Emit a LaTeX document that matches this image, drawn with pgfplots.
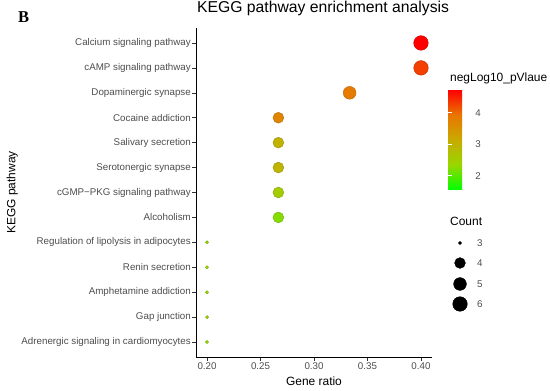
\documentclass[border=0pt]{standalone}
\usepackage{pgfplots}
\usepackage{pgfplotstable}
\pgfplotsset{compat=1.18}
\usepackage{fontspec}
\setmainfont{Liberation Sans}
\newfontfamily\serifb{Liberation Serif}
\definecolor{gthirty}{HTML}{4D4D4D}
\definecolor{gtwenty}{HTML}{333333}

\pgfplotsset{colormap={ggrg}{rgb255=(0,255,0) rgb255=(152,215,0) rgb255=(200,171,0) rgb255=(233,118,0) rgb255=(255,0,0)}}

% count = 3
\pgfplotstableread{
x y p
0.2 1 2.30
0.2 2 2.40
0.2 3 2.40
0.2 4 2.35
0.2 5 2.30
}\cthree
% count = 4
\pgfplotstableread{
x y p
0.2667 6 2.25
0.2667 7 2.55
0.2667 8 2.95
0.2667 9 3.00
0.2667 10 3.70
}\cfour
% count = 5
\pgfplotstableread{
x y p
0.3333 11 3.85
}\cfive
% count = 6
\pgfplotstableread{
x y p
0.4 12 4.30
0.4 13 4.72
}\csix

\begin{document}
\begin{tikzpicture}
\path[use as bounding box] (0,0) rectangle (550bp,391bp);
\node[anchor=base west, inner sep=0, font=\serifb\bfseries\fontsize{16.6}{18}\selectfont] at (18bp,368bp) {B};

\begin{axis}[
  at={(196bp,34bp)}, anchor=south west,
  scale only axis, width=236bp, height=329bp,
  xmin=0.1897, xmax=0.4103, ymin=0.4, ymax=13.6,
  axis x line*=bottom, axis y line*=left,
  axis line style={-, black, line width=0.8pt},
  tick align=outside, major tick length=3.5bp,
  tick style={gtwenty, line width=0.6pt},
  xtick={0.20,0.25,0.30,0.35,0.40},
  xticklabels={0.20,0.25,0.30,0.35,0.40},
  ytick={1,2,3,4,5,6,7,8,9,10,11,12,13},
  yticklabels={Adrenergic signaling in cardiomyocytes, Gap junction, Amphetamine addiction, Renin secretion, Regulation of lipolysis in adipocytes, Alcoholism, cGMP−PKG signaling pathway, Serotonergic synapse, Salivary secretion, Cocaine addiction, Dopaminergic synapse, cAMP signaling pathway, Calcium signaling pathway},
  ticklabel style={font=\fontsize{9.8}{11}\selectfont, text=gthirty},
  yticklabel style={inner sep=1.5bp},
  xticklabel style={inner sep=2bp},
  title={KEGG pathway enrichment analysis},
  title style={at={(axis description cs:0.004,1.0304)}, anchor=base west, inner sep=0, font=\fontsize{15.8}{17}\selectfont},
  xlabel={Gene ratio},
  xlabel style={at={(axis description cs:0.5,-0.0881)}, anchor=base, inner sep=0, font=\fontsize{12}{14}\selectfont},
  ylabel={KEGG pathway},
  ylabel style={at={(axis description cs:-0.765,0.5)}, anchor=base, rotate=0, inner sep=0, font=\fontsize{12}{14}\selectfont},
  colormap name=ggrg,
  point meta min=1.55, point meta max=4.72,
  colorbar,
  colorbar style={
    at={(1.068,0.8116)}, anchor=north west,
    scale only axis, width=20bp, height=100bp,
    ytick={2,3,4}, yticklabels={2,3,4},
    yticklabel pos=right,
    yticklabel style={font=\fontsize{9.8}{11}\selectfont, text=gthirty, inner sep=2bp, xshift=5bp},
    tick align=inside, major tick length=4bp,
    ytick style={white, line width=0.7pt},
    ytick pos=both,
    axis line style={draw=none},
  },
]
\addplot[scatter, only marks, mark=*, mark size=1.6bp, scatter src=explicit] table[x=x,y=y,meta=p]{\cthree};
\addplot[scatter, only marks, mark=*, mark size=5.4bp, scatter src=explicit] table[x=x,y=y,meta=p]{\cfour};
\addplot[scatter, only marks, mark=*, mark size=6.4bp, scatter src=explicit] table[x=x,y=y,meta=p]{\cfive};
\addplot[scatter, only marks, mark=*, mark size=7.3bp, scatter src=explicit] table[x=x,y=y,meta=p]{\csix};
\end{axis}

\node[anchor=base west, inner sep=0, font=\fontsize{12}{14}\selectfont] at (450bp,309bp) {negLog10\_pVlaue};
\node[anchor=base west, inner sep=0, font=\fontsize{12}{14}\selectfont] at (450bp,165bp) {Count};

\begin{axis}[
  at={(440bp,77bp)}, anchor=south west,
  scale only axis, width=60bp, height=90bp,
  xmin=0, xmax=60, ymin=0, ymax=90,
  hide axis, clip=false,
]
\addplot[only marks, mark=*, black, mark size=1.6bp] coordinates {(20,71)};
\addplot[only marks, mark=*, black, mark size=5.4bp] coordinates {(20,51)};
\addplot[only marks, mark=*, black, mark size=6.4bp] coordinates {(20,30)};
\addplot[only marks, mark=*, black, mark size=7.3bp] coordinates {(20,10)};
\node[anchor=west, inner sep=0, text=gthirty, font=\fontsize{9.8}{11}\selectfont] at (axis cs:37,71) {3};
\node[anchor=west, inner sep=0, text=gthirty, font=\fontsize{9.8}{11}\selectfont] at (axis cs:37,51) {4};
\node[anchor=west, inner sep=0, text=gthirty, font=\fontsize{9.8}{11}\selectfont] at (axis cs:37,30) {5};
\node[anchor=west, inner sep=0, text=gthirty, font=\fontsize{9.8}{11}\selectfont] at (axis cs:37,10) {6};
\end{axis}
\end{tikzpicture}
\end{document}
